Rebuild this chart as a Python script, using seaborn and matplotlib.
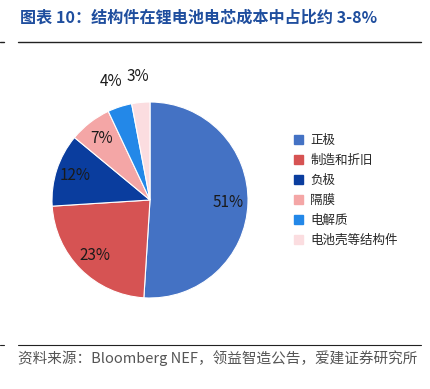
import numpy as np
import matplotlib
matplotlib.use("Agg")
import matplotlib.pyplot as plt
import seaborn as sns

labels = ["正极", "制造和折旧", "负极", "隔膜", "电解质", "电池壳等结构件"]
shares = [51, 23, 12, 7, 4, 3]
colors = ["#4472C4", "#D65353", "#0A3D9E", "#F4A6A6", "#2388E8", "#FBDDE0"]
outside = [False, False, False, False, True, True]

title = "图表 10：结构件在锂电池电芯成本中占比约 3-8%"
source = "资料来源：Bloomberg NEF，领益智造公告，爱建证券研究所"

sns.set_theme(style="white")
plt.rcParams['font.family'] = ['Noto Sans CJK SC', 'DejaVu Sans']

W, H = 431, 389
fig = plt.figure(figsize=(W / 100, H / 100), dpi=100)
fig.patch.set_facecolor("white")

# pie axes: centre (150, 200) px, radius 98 px
R = 98
half = 1.3 * R
ax = fig.add_axes([(150 - half) / W, 1 - (200 + half) / H, 2 * half / W, 2 * half / H])
wedges, _ = ax.pie(shares, colors=colors, startangle=90, counterclock=False,
                   wedgeprops=dict(edgecolor="white", linewidth=0.8))
ax.set_xlim(-1.3, 1.3)
ax.set_ylim(-1.3, 1.3)
ax.set_aspect("equal")
ax.axis("off")

for w, v, out in zip(wedges, shares, outside):
    mid = np.deg2rad((w.theta1 + w.theta2) / 2)
    d = 1.27 if out else 0.8
    ax.text(d * np.cos(mid), d * np.sin(mid), f"{v}%", ha="center", va="center",
            fontsize=11, color="#1a1a1a")

# legend
handles = [plt.Rectangle((0, 0), 1, 1, color=c) for c in colors]
fig.legend(handles, labels, loc="upper left", bbox_to_anchor=(288 / W, 1 - 128 / H),
           frameon=False, fontsize=9, handlelength=0.7, handleheight=0.7,
           handletextpad=0.6, labelspacing=0.55, borderpad=0)

# title, rules and source
fig.text(20 / W, 1 - 18 / H, title, fontsize=11.6, fontweight="bold",
         color="#1F4E9E", va="center", ha="left")
fig.add_artist(plt.Line2D([18 / W, 421 / W], [1 - 42 / H] * 2, color="#222222", lw=1))
fig.add_artist(plt.Line2D([0, 4 / W], [1 - 42 / H] * 2, color="#222222", lw=1))
fig.add_artist(plt.Line2D([18 / W, 421 / W], [1 - 345 / H] * 2, color="#222222", lw=0.8))
fig.add_artist(plt.Line2D([0, 4 / W], [1 - 345 / H] * 2, color="#222222", lw=0.8))
fig.text(18 / W, 1 - 358 / H, source, fontsize=10.5, color="#555555",
         va="center", ha="left")

fig.savefig("out.png", dpi=100, facecolor="white")
